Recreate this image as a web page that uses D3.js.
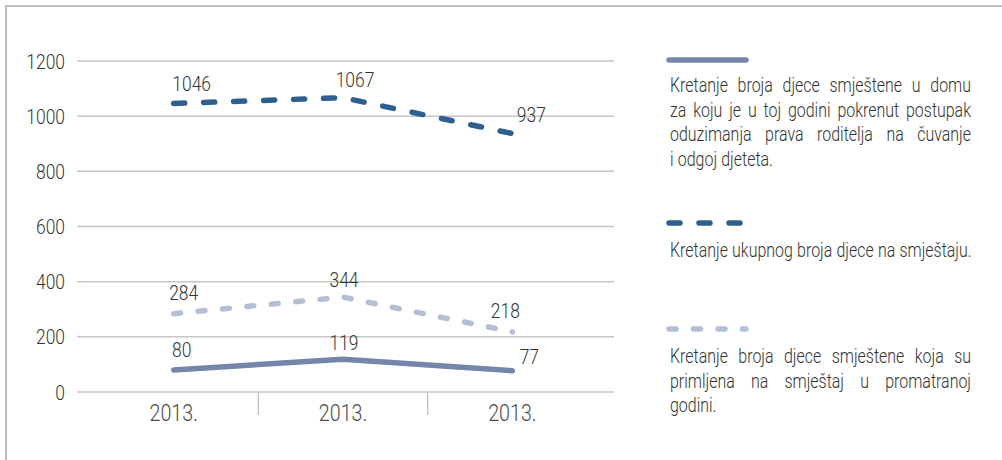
<!DOCTYPE html>
<html>
<head>
<meta charset="utf-8">
<script src="https://cdn.jsdelivr.net/npm/d3@7"></script>
<style>
  body { margin: 0; background: #fff; }
  svg { display: block; font-family: Roboto, "Noto Sans", sans-serif; font-weight: 300; }
</style>
</head>
<body>
<svg id="chart" width="1002" height="460"></svg>
<script>
const categories = ["2013.", "2013.", "2013."];
const yTicks = [0, 200, 400, 600, 800, 1000, 1200];

const seriesNames = ["oduzimanje", "ukupno", "primljeni"];
const oduzimanjeValues = [80, 119, 77];
const ukupnoValues = [1046, 1067, 937];
const primljeniValues = [284, 344, 218];

const legendTexts = [
  ["Kretanje broja djece smještene u domu", "za koju je u toj godini pokrenut postupak", "oduzimanja prava roditelja na čuvanje", "i odgoj djeteta."],
  ["Kretanje ukupnog broja djece na smještaju."],
  ["Kretanje broja djece smještene koja su", "primljena na smještaj u promatranoj", "godini."]
];

const svg = d3.select("#chart");
const textColor = "#333";
const gridColor = "#c6c6c6";

// narrow (horizontally squeezed) text placed at (px, py)
function narrowText(parent, px, py, str, opts) {
  const o = Object.assign({ anchor: "start", size: 21, sx: 0.76, fill: textColor }, opts);
  return parent.append("text")
    .attr("transform", `translate(${px},${py}) scale(${o.sx},1)`)
    .attr("text-anchor", o.anchor)
    .attr("font-size", o.size)
    .attr("fill", o.fill)
    .text(str);
}

// outer frame (top and left edges only)
svg.append("path")
  .attr("d", "M6,460 V6 H1002")
  .attr("fill", "none")
  .attr("stroke", "#bdbdbd")
  .attr("stroke-width", 2);

const x = d3.scaleBand().domain(d3.range(categories.length)).range([89, 597]);
const y = d3.scaleLinear().domain([0, 1200]).range([392, 61]);
const cx = i => x(i) + x.bandwidth() / 2;

// gridlines
svg.append("g").selectAll("line")
  .data(yTicks)
  .join("line")
  .attr("x1", 77).attr("x2", 614)
  .attr("y1", d => y(d)).attr("y2", d => y(d))
  .attr("stroke", gridColor)
  .attr("stroke-width", 1.5);

// y labels
const yLab = svg.append("g");
yTicks.forEach(t => narrowText(yLab, 65, y(t) + 7.5, t, { anchor: "end", sx: 0.83 }));

// category tick marks between bands
svg.append("g").selectAll("line")
  .data(d3.range(1, categories.length))
  .join("line")
  .attr("x1", d => x(d)).attr("x2", d => x(d))
  .attr("y1", y(0)).attr("y2", y(0) + 23)
  .attr("stroke", gridColor)
  .attr("stroke-width", 1.5);

const xLab = svg.append("g");
categories.forEach((c, i) =>
  narrowText(xLab, cx(i), 421, c, { anchor: "middle", size: 24, sx: 0.82, fill: "#4a4a4a" }));

const series = [
  { name: "oduzimanje", values: oduzimanjeValues, color: "#7686aa", dash: null,
    labelDx: [8, 1, 17], labelDy: [-13, -9, -7] },
  { name: "ukupno", values: ukupnoValues, color: "#2f5f8f", dash: "11 19",
    labelDx: [18, 12, 19], labelDy: [-12, -11, -12] },
  { name: "primljeni", values: primljeniValues, color: "#b4bed4", dash: "7 17.5",
    labelDx: [10, 1, -7], labelDy: [-14, -10, -14] }
];

const line = d3.line()
  .x((d, i) => cx(i))
  .y(d => y(d));

series.forEach(s => {
  svg.append("path")
    .datum(s.values)
    .attr("fill", "none")
    .attr("stroke", s.color)
    .attr("stroke-width", 5.5)
    .attr("stroke-linecap", "round")
    .attr("stroke-linejoin", "round")
    .attr("stroke-dasharray", s.dash)
    .attr("d", line);

  const lab = svg.append("g");
  s.values.forEach((v, i) =>
    narrowText(lab, cx(i) + s.labelDx[i], y(v) + s.labelDy[i], v, { anchor: "middle", sx: 0.83 }));
});

// legend
const legendSampleY = [60, 223, 329];
const legendTextY = [92, 257, 363];
const legendLeft = 670, legendRight = 971;
const legendSx = 0.76;

function justifyLine(g, str, yPos, justify) {
  const words = str.split(" ");
  const nodes = words.map(w => narrowText(g, 0, yPos, w, { sx: legendSx }));
  const widths = nodes.map(n => n.node().getComputedTextLength() * legendSx);
  const total = d3.sum(widths);
  const space = justify && words.length > 1
    ? (legendRight - legendLeft - total) / (words.length - 1)
    : 4.2;
  let px = legendLeft;
  nodes.forEach((n, i) => {
    n.attr("transform", `translate(${px},${yPos}) scale(${legendSx},1)`);
    px += widths[i] + space;
  });
}

series.forEach((s, k) => {
  const lg = svg.append("g");
  lg.append("line")
    .attr("x1", 669).attr("x2", 746)
    .attr("y1", legendSampleY[k]).attr("y2", legendSampleY[k])
    .attr("stroke", s.color)
    .attr("stroke-width", 5.5)
    .attr("stroke-linecap", "round")
    .attr("stroke-dasharray", s.dash);

  const lines = legendTexts[k];
  lines.forEach((t, j) => {
    justifyLine(lg, t, legendTextY[k] + j * 24.5, j < lines.length - 1);
  });
});
</script>
</body>
</html>
